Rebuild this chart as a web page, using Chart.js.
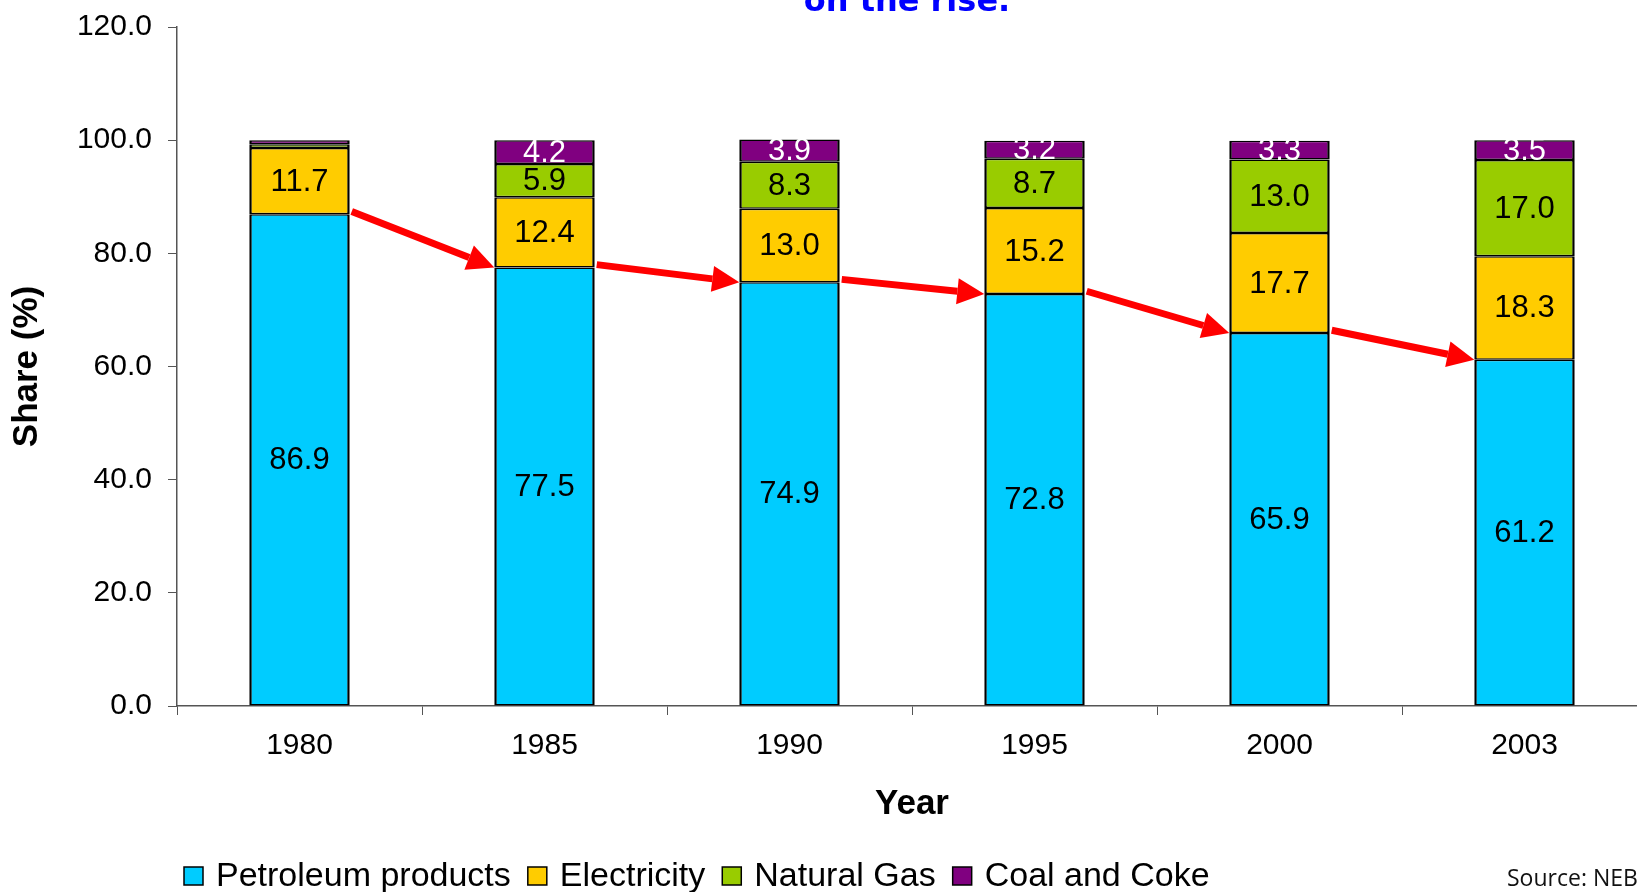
<!DOCTYPE html>
<html>
<head>
<meta charset="utf-8">
<title>Energy share by source</title>
<script src="https://cdn.jsdelivr.net/npm/chart.js@4.4.1/dist/chart.umd.min.js"></script>
<style>
    html, body { margin: 0; padding: 0; background: #fff; overflow: hidden; }
    #wrap { position: absolute; left: 0; top: 0; width: 1660px; height: 892px; }
</style>
</head>
<body>
<div id="wrap"><canvas id="shareChart"></canvas></div>
<script>
const years = ['1980', '1985', '1990', '1995', '2000', '2003'];
const petroleum = [86.9, 77.5, 74.9, 72.8, 65.9, 61.2];
const electricity = [11.7, 12.4, 13.0, 15.2, 17.7, 18.3];
const naturalGas = [0.7, 5.9, 8.3, 8.7, 13.0, 17.0];
const coalCoke = [0.7, 4.2, 3.9, 3.2, 3.3, 3.5];
const shareTicks = [0, 20, 40, 60, 80, 100, 120];

const FONT = '"Liberation Sans", Arial, sans-serif';

// numbers inside each stacked segment
const segmentLabels = {
    id: 'segmentLabels',
    afterDatasetsDraw(chart) {
        const ctx = chart.ctx;
        ctx.save();
        ctx.font = '31px ' + FONT;
        ctx.textAlign = 'center';
        ctx.textBaseline = 'middle';
        chart.data.datasets.forEach((ds, d) => {
            const meta = chart.getDatasetMeta(d);
            meta.data.forEach((bar, i) => {
                const v = ds.data[i];
                if (v < 1) return;
                ctx.fillStyle = ds.labelColor || '#000';
                ctx.fillText(v.toFixed(1), bar.x, (bar.y + bar.base) / 2 + 1);
            });
        });
        ctx.restore();
    }
};

// red arrows linking the petroleum tops
const trendArrows = {
    id: 'trendArrows',
    afterDatasetsDraw(chart) {
        const ctx = chart.ctx;
        const ys = chart.scales.y;
        const bars = chart.getDatasetMeta(0).data;
        ctx.save();
        ctx.strokeStyle = '#ff0000';
        ctx.fillStyle = '#ff0000';
        ctx.lineWidth = 7;
        for (let i = 0; i < bars.length - 1; i++) {
            const a = bars[i], b = bars[i + 1];
            const x1 = a.x + a.width / 2 + 2;
            const y1 = ys.getPixelForValue(petroleum[i] + 0.5);
            const x2 = b.x - b.width / 2;
            const y2 = ys.getPixelForValue(petroleum[i + 1]);
            const ang = Math.atan2(y2 - y1, x2 - x1);
            const headLen = 27, headW = 13;
            const bx = x2 - headLen * Math.cos(ang);
            const by = y2 - headLen * Math.sin(ang);
            ctx.beginPath();
            ctx.moveTo(x1, y1);
            ctx.lineTo(bx, by);
            ctx.stroke();
            ctx.beginPath();
            ctx.moveTo(x2, y2);
            ctx.lineTo(bx + headW * Math.sin(ang), by - headW * Math.cos(ang));
            ctx.lineTo(bx - headW * Math.sin(ang), by + headW * Math.cos(ang));
            ctx.closePath();
            ctx.fill();
        }
        ctx.restore();
    }
};

// heading, legend row and source note
const extras = {
    id: 'extras',
    afterDraw(chart) {
        const ctx = chart.ctx;
        ctx.save();
        ctx.fillStyle = '#0000ff';
        ctx.font = 'bold 32px "DejaVu Sans", sans-serif';
        ctx.textAlign = 'center';
        ctx.textBaseline = 'alphabetic';
        ctx.fillText('on the rise.', 907, 11);

        ctx.font = '34px ' + FONT;
        ctx.textAlign = 'left';
        ctx.textBaseline = 'middle';
        let x = 184;
        const cy = 876;
        chart.data.datasets.forEach(ds => {
            ctx.fillStyle = ds.backgroundColor;
            ctx.fillRect(x, cy - 9, 19, 18);
            ctx.strokeStyle = '#000';
            ctx.lineWidth = 1.5;
            ctx.strokeRect(x, cy - 9, 19, 18);
            x += 19 + 13;
            ctx.fillStyle = '#000';
            ctx.fillText(ds.label, x, cy + 1);
            x += ctx.measureText(ds.label).width + 17;
        });

        ctx.font = '23px "Open Sans", sans-serif';
        ctx.fillStyle = '#111';
        ctx.fillText('Source: NEB', 1507, 879);
        ctx.restore();
    }
};

const seg = (label, data, color, labelColor) => ({
    label, data,
    backgroundColor: color,
    borderColor: '#000',
    borderWidth: { top: 1.5, bottom: 1.5, left: 2.5, right: 2.5 },
    borderSkipped: false,
    barPercentage: 0.41,
    categoryPercentage: 1.0,
    labelColor
});

new Chart(document.getElementById('shareChart'), {
    type: 'bar',
    data: {
        labels: years,
        datasets: [
            seg('Petroleum products', petroleum, '#00ccff', '#000'),
            seg('Electricity', electricity, '#ffcc00', '#000'),
            seg('Natural Gas', naturalGas, '#99cc00', '#000'),
            seg('Coal and Coke', coalCoke, '#800080', '#fff')
        ]
    },
    options: {
        responsive: true,
        maintainAspectRatio: false,
        animation: false,
        layout: { padding: { top: 27, right: 13, bottom: 64, left: 0 } },
        plugins: {
            legend: { display: false },
            tooltip: { enabled: false }
        },
        scales: {
            x: {
                stacked: true,
                grid: { drawOnChartArea: false, drawTicks: true, tickLength: 9, color: '#555', offset: true },
                border: { color: '#555', width: 1.5 },
                ticks: { color: '#000', font: { size: 30, family: FONT }, padding: 13 },
                title: {
                    display: true, text: 'Year', color: '#000',
                    font: { size: 35, weight: 'bold', family: FONT },
                    padding: { top: 0, bottom: 3 }
                },
                afterFit: s => { s.height = 122; }
            },
            y: {
                stacked: true,
                min: 0,
                max: 120,
                afterBuildTicks: s => { s.ticks = shareTicks.map(v => ({ value: v })); },
                grid: { drawOnChartArea: false, drawTicks: true, tickLength: 9, color: '#555' },
                border: { color: '#555', width: 1.5 },
                ticks: {
                    color: '#000', font: { size: 30, family: FONT }, padding: 16,
                    callback: v => Number(v).toFixed(1)
                },
                title: {
                    display: true, text: 'Share (%)', color: '#000',
                    font: { size: 35, weight: 'bold', family: FONT },
                    padding: { top: 6, bottom: 0 }
                },
                afterFit: s => { s.width = 177; s.paddingTop = 0; s.paddingBottom = 0; }
            }
        }
    },
    plugins: [segmentLabels, trendArrows, extras]
});
</script>
</body>
</html>
